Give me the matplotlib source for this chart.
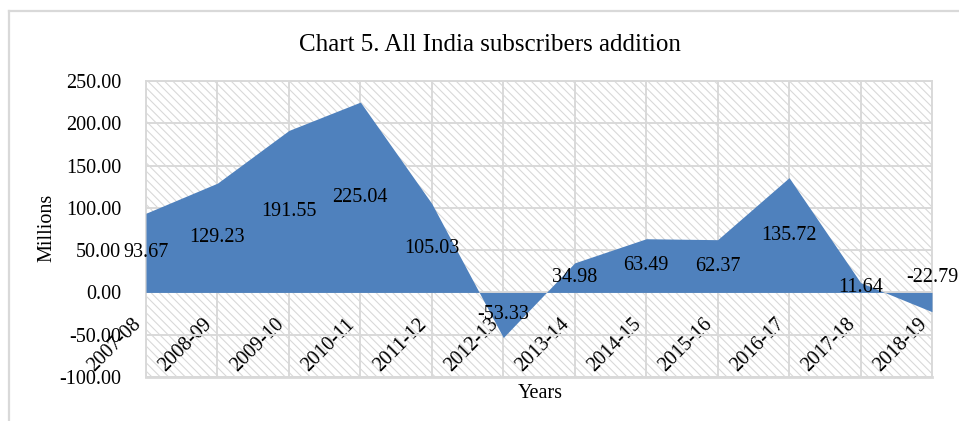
import matplotlib.pyplot as plt
from matplotlib.patches import Rectangle
from matplotlib.lines import Line2D
from matplotlib.transforms import ScaledTranslation

# Data
years = ['2007-08', '2008-09', '2009-10', '2010-11', '2011-12', '2012-13',
         '2013-14', '2014-15', '2015-16', '2016-17', '2017-18', '2018-19']
additions = [93.67, 129.23, 191.55, 225.04, 105.03, -53.33,
             34.98, 63.49, 62.37, 135.72, 11.64, -22.79]
y_ticks = [-100, -50, 0, 50, 100, 150, 200, 250]

plt.rcParams['font.family'] = ['Liberation Serif', 'DejaVu Serif']
plt.rcParams['hatch.color'] = '#d3d3d3'
plt.rcParams['hatch.linewidth'] = 0.8

W, H = 959, 421
fig = plt.figure(figsize=(W / 100, H / 100), dpi=100)
ax = fig.add_axes([146 / W, 1 - 377 / H, (932 - 146) / W, (377 - 81) / H])

grid_col = '#d9d9d9'
blue = '#4f81bd'
fs = 14.5

# hatched plot background
ax.add_patch(Rectangle((0, 0), 1, 1, transform=ax.transAxes, facecolor='white',
                       edgecolor=grid_col, hatch='\\' * 4, linewidth=0, zorder=0))

x = list(range(len(years)))
ax.fill_between(x, additions, 0, color=blue, linewidth=0, zorder=3)

# x axis crosses at zero, like the original chart
ax.spines['bottom'].set_position(('data', 0))

ax.set_xlim(0, len(years) - 1)
ax.set_ylim(-100, 250)
ax.set_yticks(y_ticks)
ax.set_yticklabels([f'{v:.2f}' for v in y_ticks], fontsize=fs)
ax.set_xticks(x)
ax.set_xticklabels(years, fontsize=fs, rotation=45, ha='right', va='center',
                   rotation_mode='anchor')
ax.tick_params(axis='both', length=0)
ax.tick_params(axis='y', pad=18)
ax.tick_params(axis='x', pad=21)
shift = ScaledTranslation(-8 / 100, 0, fig.dpi_scale_trans)
for lab in ax.get_xticklabels():
    lab.set_transform(lab.get_transform() + shift)

ax.grid(True, color=grid_col, linewidth=1.4)
for gl in ax.get_xgridlines() + ax.get_ygridlines():
    gl.set_zorder(1)
for side in ['top', 'right', 'left', 'bottom']:
    ax.spines[side].set_color(grid_col)
    ax.spines[side].set_linewidth(1.4)
    ax.spines[side].set_zorder(1)
# bottom frame line at -100
ax.axhline(-100, color=grid_col, linewidth=2.0, zorder=1, clip_on=False)

# data labels at half height of each value
label_y = [v / 2 for v in additions]
label_y[-1] = 18
for xi, yi, v in zip(x, label_y, additions):
    ax.text(xi, yi, f'{v:.2f}', fontsize=fs, ha='center', va='center', zorder=5,
            clip_on=False)

fig.text(490 / W, 1 - 45 / H, 'Chart 5. All India subscribers addition',
         fontsize=18, ha='center', va='center')
fig.text(47 / W, 1 - 228 / H, 'Millions', fontsize=fs, rotation=90,
         ha='center', va='center')
fig.text(540 / W, 1 - 393 / H, 'Years', fontsize=fs, ha='center', va='center')

# outer chart border (cropped)
fig.add_artist(Line2D([9 / W, 9 / W], [0, 1 - 11 / H], color=grid_col, linewidth=1.6,
                      transform=fig.transFigure))
fig.add_artist(Line2D([9 / W, 1], [1 - 11 / H, 1 - 11 / H], color=grid_col,
                      linewidth=1.6, transform=fig.transFigure))

fig.savefig('out.png', dpi=100)
